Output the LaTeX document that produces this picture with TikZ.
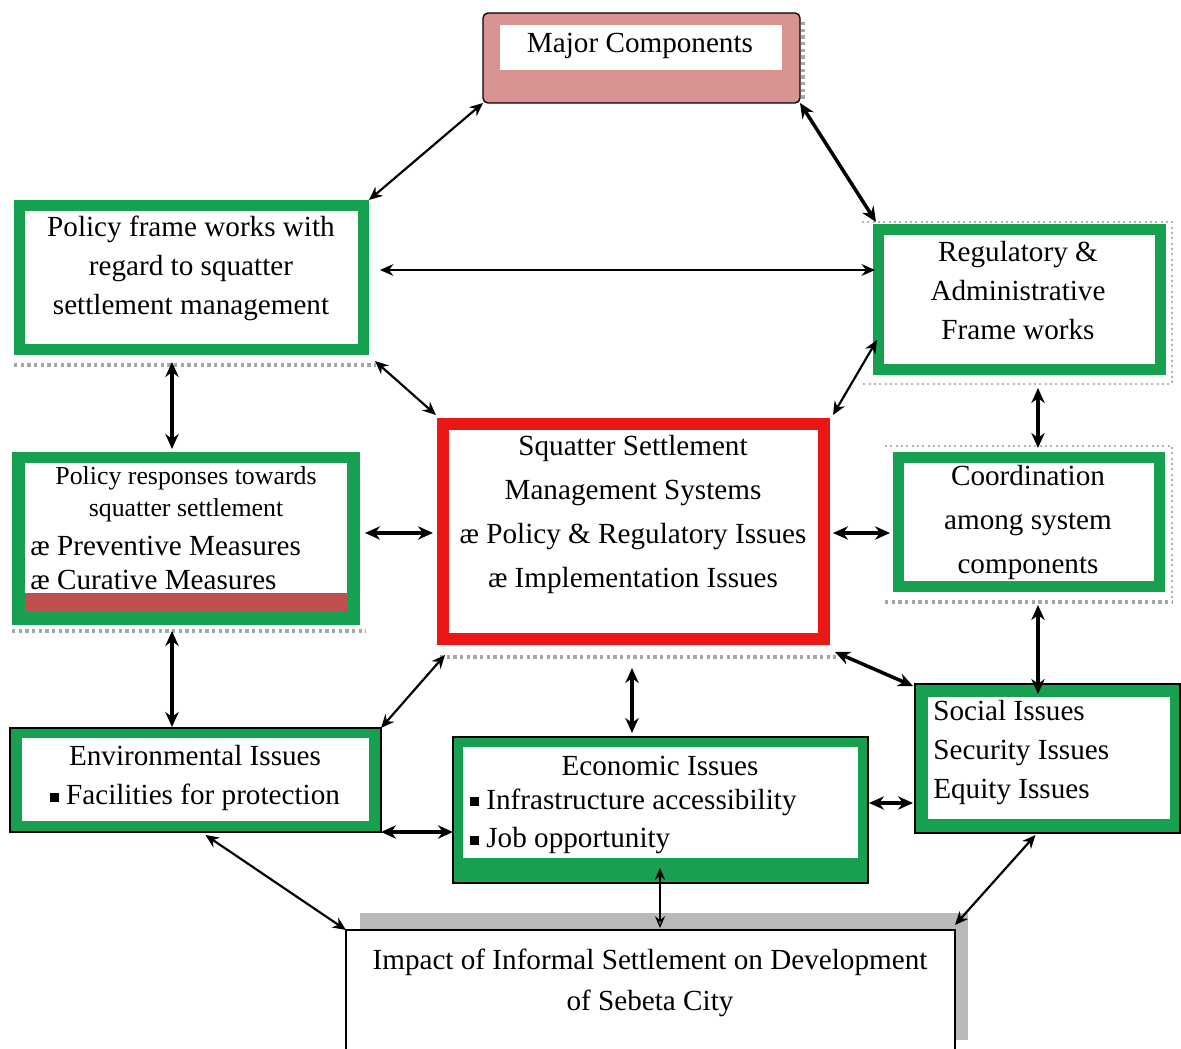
\documentclass[tikz,border=0pt]{standalone}
\usepackage{fontspec}
\setmainfont{Liberation Serif}
\usetikzlibrary{arrows.meta,calc,fit}
\definecolor{gr}{RGB}{22,160,80}
\definecolor{rd}{RGB}{235,22,22}
\definecolor{pk}{RGB}{217,146,146}
\definecolor{brick}{RGB}{192,80,77}
\newcommand{\sqb}{\raisebox{0.22ex}{\rule{0.3em}{0.3em}}\ }
\begin{document}
\begin{tikzpicture}[x=0.6pt,y=-0.6pt,
  box/.style={rectangle,inner sep=0pt,outer sep=0pt},
  txt/.style={inner sep=0pt,font=\fontsize{17.5}{23.4}\selectfont},
  arr/.style={{Stealth[length=9pt,width=8pt]}-{Stealth[length=9pt,width=8pt]},line width=2.1pt},
  arrt/.style={{Stealth[length=8pt,width=7pt]}-{Stealth[length=8pt,width=7pt]},line width=1.3pt},
  shad/.style={gray!70,dotted,line width=2pt}]
\useasboundingbox (0,0) rectangle (1181,1049);
\fill[white] (0,0) rectangle (1181,1049);

% Major components
\draw[shad] (803,22) -- (803,100);
\node[box,fill=pk,draw=black,line width=0.8pt,rounded corners=3pt,fit={(483,13)(800,103)}] (mc) {};
\fill[white] (500,25) rectangle (782,70);
\node[txt] (mct) at (640,46) {Major Components};

% Policy frame works
\draw[shad] (14,365) -- (376,365);
\node[box,fill=gr,fit={(14,200)(369,355)}] (pf) {};
\fill[white] (25,211) rectangle (358,344);
\node[txt,align=center] (pft) at (191,268) {Policy frame works with\\regard to squatter\\settlement management};

% Regulatory
\draw[gray!60,dotted,line width=1.2pt] (862,222) -- (1172,222) -- (1172,384) -- (862,384);
\node[box,fill=gr,fit={(873,224)(1166,375)}] (rg) {};
\fill[white] (884,235) rectangle (1155,364);
\node[txt,align=center] (rgt) at (1018,291) {Regulatory \&\\Administrative\\Frame works};

% Policy responses
\draw[shad] (12,631) -- (366,631);
\node[box,fill=gr,fit={(12,452)(360,625)}] (pr) {};
\fill[white] (25,463) rectangle (347,612);
\fill[brick] (25,593) rectangle (347,612);
\node[txt,align=center,font=\fontsize{15.5}{19.2}\selectfont] (prt) at (186,494) {Policy responses towards\\squatter settlement};
\node[txt,anchor=west] (prb1) at (30,546) {æ Preventive Measures};
\node[txt,anchor=west] (prb2) at (30,580) {æ Curative Measures};

% Central system
\draw[shad] (440,657) -- (836,657);
\node[box,fill=rd,fit={(437,418)(830,645)}] (ss) {};
\fill[white] (449,430) rectangle (818,633);
\node[txt,align=center,font=\fontsize{17.5}{26.4}\selectfont] (sst) at (633,514) {Squatter Settlement\\Management Systems\\æ Policy \& Regulatory Issues\\æ Implementation Issues};

% Coordination
\draw[gray!60,dotted,line width=1.2pt] (885,446) -- (1172,446) -- (1172,602);
\draw[shad] (885,602) -- (1172,602);
\node[box,fill=gr,fit={(893,452)(1165,592)}] (co) {};
\fill[white] (904,463) rectangle (1154,581);
\node[txt,align=center,font=\fontsize{17.5}{26.4}\selectfont] (cot) at (1028,522) {Coordination\\among system\\components};

% Environmental
\node[box,fill=gr,draw=black,line width=0.8pt,fit={(10,728)(381,832)}] (en) {};
\fill[white] (22,738) rectangle (369,821);
\node[txt,align=center] (ent) at (195,778) {Environmental Issues\\\sqb Facilities for protection};

% Economic
\node[box,fill=gr,draw=black,line width=0.8pt,fit={(453,737)(868,883)}] (ec) {};
\fill[white] (463,747) rectangle (858,858);
\node[txt] (ect) at (660,766) {Economic Issues};
\node[txt,anchor=west] (ecb1) at (470,802) {\sqb Infrastructure accessibility};
\node[txt,anchor=west] (ecb2) at (470,841) {\sqb Job opportunity};

% Social
\node[box,fill=gr,draw=black,line width=0.8pt,fit={(915,684)(1180,833)}] (so) {};
\fill[white] (928,697) rectangle (1170,819);
\node[txt,anchor=north west,align=left] (sot) at (933,700) {Social Issues\\Security Issues\\Equity Issues};

% Impact
\fill[gray!55] (360,913) rectangle (968,1040);
\node[box,fill=white,draw=black,line width=0.8pt,fit={(346,930)(955,1070)}] (im) {};
\node[txt,align=center,font=\fontsize{17.5}{24.6}\selectfont] (imt) at (650,983) {Impact of Informal Settlement on Development\\of Sebeta City};

% Connectors
\draw[arrt] (mc.south west) -- (pf.north east);
\draw[arr] (mc.south east) -- ($(rg.north west)+(3,-2)$);
\draw[arrt] ($(pf.east)+(11,-7.5)$) -- ($(rg.west)+(2,-29.5)$);
\draw[arrt] ($(pf.south east)+(6,6)$) -- ($(ss.north west)+(-1,-3)$);
\draw[arrt] ($(rg.south west)+(4,-35)$) -- ($(ss.north east)+(3,-3)$);
\draw[arr] ($(pf.south west)+(158,7)$) -- ($(pr.north west)+(160,-3)$);
\draw[arr] ($(rg.south)+(18.5,13)$) -- ($(co.north)+(9,-4)$);
\draw[arr] ($(pr.east)+(5,-5.5)$) -- ($(ss.west)+(-4,1.5)$);
\draw[arr] ($(ss.east)+(3,1.5)$) -- ($(co.west)+(-3,11)$);
\draw[arr] ($(pr.south)+(-14,6)$) -- ($(en.north)+(-23.5,-1)$);
\draw[arrt] ($(ss.south west)+(8,10)$) -- (en.north east);
\draw[arr] ($(ss.south)+(-1.5,23)$) -- ($(ec.north)+(-28.5,-4)$);
\draw[arr] ($(ss.south east)+(5,7)$) -- ($(so.north west)+(-2,2)$);
\draw[arr] ($(co.south)+(9,13)$) -- ($(so.north)+(-9.5,10)$);
\draw[arr] (en.south east) -- ($(ec.west)+(0,22)$);
\draw[arr] ($(ec.east)+(1,-7)$) -- ($(so.west)+(-2,44.5)$);
\draw[arrt] ($(en.south)+(10,3)$) -- (im.north west);
\draw[{Stealth[length=7pt,width=6pt]}-{Stealth[length=7pt,width=6pt,fill=gray]},line width=0.8pt] ($(ec.south)+(-0.5,-15)$) -- ($(im.north)+(9.5,-2)$);
\draw[arrt] ($(so.south)+(-12,2)$) -- ($(im.north east)+(0,-5)$);
\end{tikzpicture}
\end{document}
